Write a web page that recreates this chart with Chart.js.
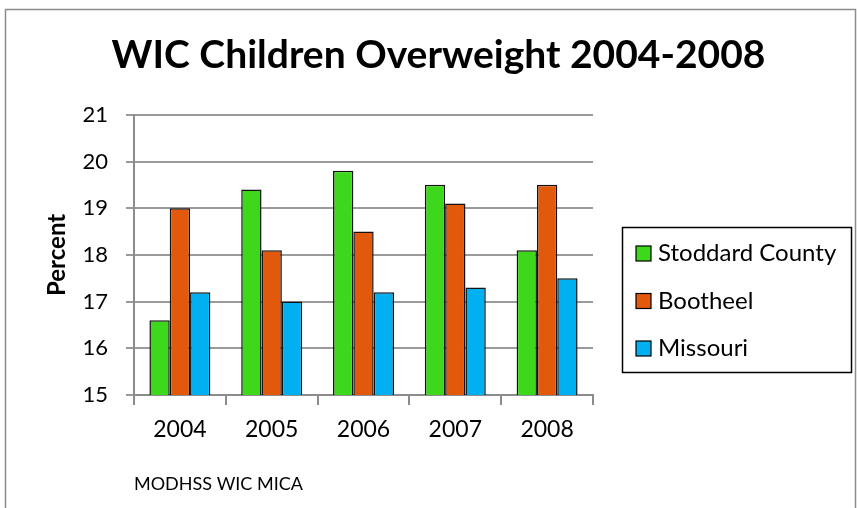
<!DOCTYPE html>
<html>
  <head>
    <title>WIC Children Overweight 2004-2008</title>
    <script src="https://cdn.jsdelivr.net/npm/chart.js"></script>
    <style>
      body {
        margin: 0;
        background-color: #ffffff;
      }
      #chartBox {
        width: 857px;
        height: 508px;
      }
    </style>
  </head>
  <body>
    <div id="chartBox">
      <canvas id="wicChart" width="857" height="508"></canvas>
    </div>

    <script>
      const years = ["2004", "2005", "2006", "2007", "2008"];
      const stoddard = [16.6, 19.4, 19.8, 19.5, 18.1];
      const bootheel = [19.0, 18.1, 18.5, 19.1, 19.5];
      const missouri = [17.2, 17.0, 17.2, 17.3, 17.5];
      const seriesNames = ["Stoddard County", "Bootheel", "Missouri"];
      const yTicks = [15, 16, 17, 18, 19, 20, 21];
      const sourceNote = "MODHSS WIC MICA";

      const fontName = "Lato, 'Open Sans', sans-serif";

      // frame round the whole chart, legend box and the source line
      const extrasPlugin = {
        id: "extras",
        beforeDraw(chart) {
          const ctx = chart.ctx;
          ctx.save();
          ctx.strokeStyle = "#8c8c8c";
          ctx.lineWidth = 1.5;
          ctx.strokeRect(5.5, 9.5, 850, 520);
          ctx.restore();
        },
        afterDraw(chart) {
          const ctx = chart.ctx;
          const area = chart.chartArea;
          ctx.save();

          // legend
          const lx = area.right + 29;
          ctx.strokeStyle = "#000000";
          ctx.lineWidth = 1.5;
          ctx.strokeRect(lx + 0.5, 227.5, 229, 145);
          chart.data.datasets.forEach((ds, i) => {
            const cy = 253.5 + i * 47.5;
            ctx.fillStyle = ds.backgroundColor;
            ctx.fillRect(lx + 14, cy - 7.5, 15, 15);
            ctx.lineWidth = 1.2;
            ctx.strokeStyle = "#000000";
            ctx.strokeRect(lx + 14, cy - 7.5, 15, 15);
            ctx.fillStyle = "#000000";
            ctx.font = "24px " + fontName;
            ctx.textBaseline = "middle";
            ctx.textAlign = "left";
            ctx.fillText(ds.label, lx + 36, cy);
          });

          // source note
          ctx.font = "18px " + fontName;
          ctx.textBaseline = "alphabetic";
          ctx.fillText(sourceNote, area.left, 490);
          ctx.restore();
        },
      };

      const ctx = document.getElementById("wicChart").getContext("2d");

      const chart = new Chart(ctx, {
        type: "bar",
        data: {
          labels: years,
          datasets: [
            {
              label: seriesNames[0],
              data: stoddard,
              backgroundColor: "#3dd81b",
            },
            {
              label: seriesNames[1],
              data: bootheel,
              backgroundColor: "#e3590c",
            },
            {
              label: seriesNames[2],
              data: missouri,
              backgroundColor: "#00b0f0",
            },
          ],
        },
        options: {
          responsive: false,
          animation: false,
          devicePixelRatio: 1,
          layout: {
            padding: { left: 27, right: 7, top: 32, bottom: 0 },
          },
          datasets: {
            bar: {
              borderColor: "#111111",
              borderWidth: 1.5,
              borderSkipped: false,
              categoryPercentage: 0.664,
              barPercentage: 1.0,
            },
          },
          plugins: {
            legend: { display: false },
            tooltip: { enabled: false },
            title: {
              display: true,
              text: "WIC Children Overweight 2004-2008",
              color: "#000000",
              font: { family: fontName, size: 39, weight: "bold" },
              padding: { top: 0, bottom: 36 },
            },
          },
          scales: {
            x: {
              grid: {
                drawOnChartArea: false,
                drawTicks: true,
                tickLength: 10,
                color: "#8c8c8c",
                lineWidth: 2,
              },
              border: { color: "#8c8c8c", width: 2 },
              ticks: {
                color: "#000000",
                font: { family: fontName, size: 23 },
                padding: 11,
              },
              afterFit(axis) {
                axis.height = 113;
              },
            },
            y: {
              min: 15,
              max: 21,
              afterBuildTicks(axis) {
                axis.ticks = yTicks.map((v) => ({ value: v }));
              },
              grid: {
                color: "#9a9a9a",
                lineWidth: 2,
                tickLength: 8,
              },
              border: { color: "#8c8c8c", width: 2 },
              ticks: {
                color: "#000000",
                font: { family: fontName, size: 22 },
                padding: 18,
              },
              title: {
                display: true,
                text: "Percent",
                color: "#000000",
                font: { family: fontName, size: 24, weight: "bold" },
                padding: { top: 16, bottom: 0 },
              },
              afterFit(axis) {
                axis.width = 107;
              },
            },
            // empty axis that only keeps the room for the legend on the right
            legendRoom: {
              type: "linear",
              position: "right",
              display: true,
              grid: { display: false },
              border: { display: false },
              ticks: { display: false },
              afterFit(axis) {
                axis.width = 257;
              },
            },
          },
        },
        plugins: [extrasPlugin],
      });
    </script>
  </body>
</html>
